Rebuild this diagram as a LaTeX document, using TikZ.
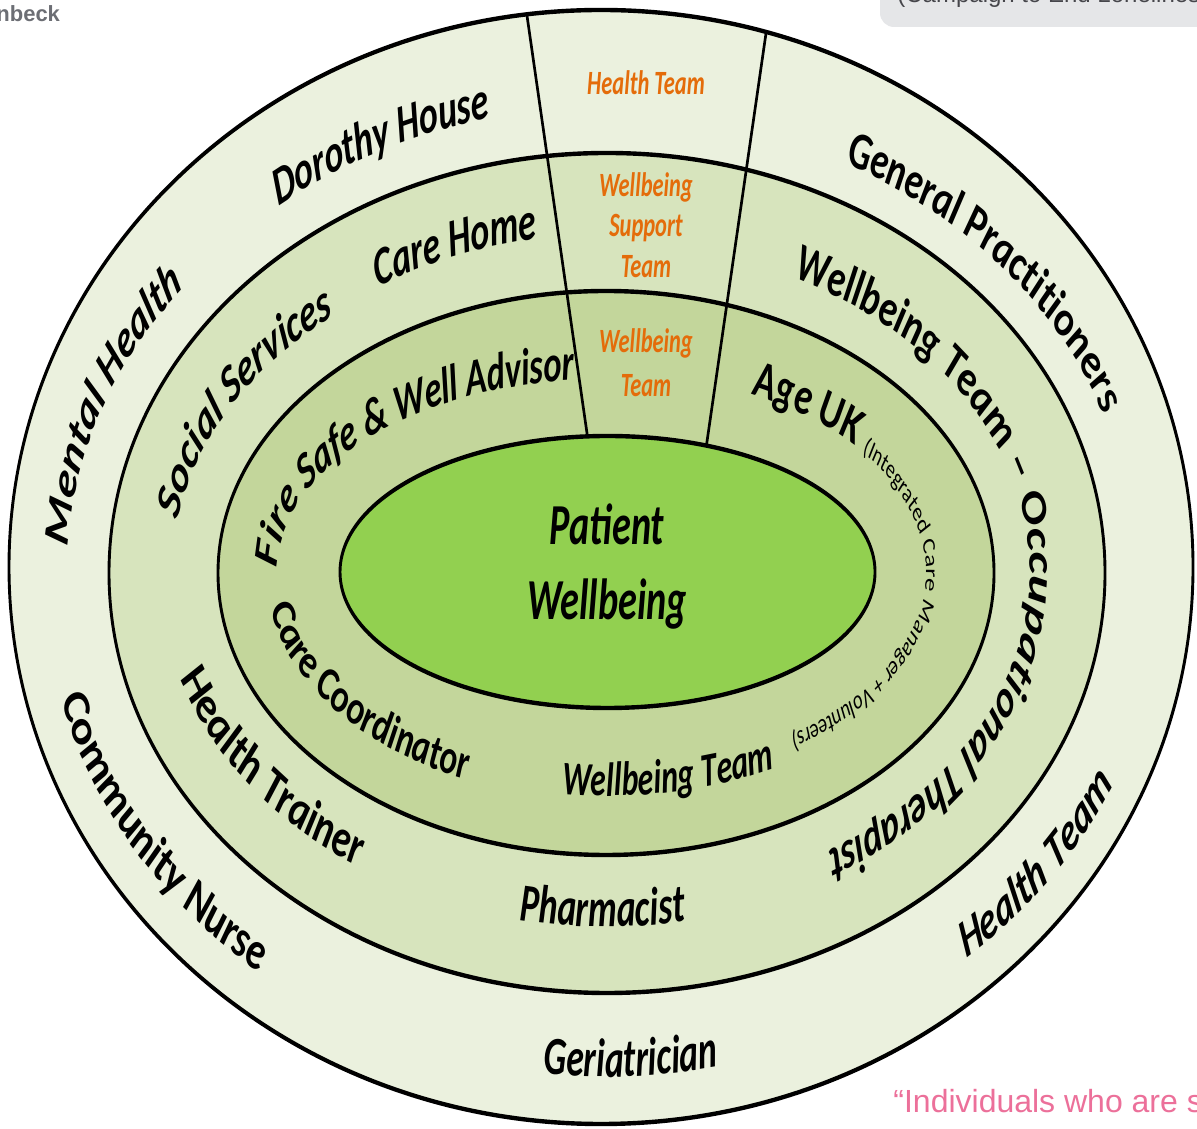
\documentclass[tikz,border=0pt]{standalone}
\usepackage{fontspec}
\usetikzlibrary{decorations.text}
\newfontfamily\carl{Carlito}
\newfontfamily\arialf{Liberation Sans}
\definecolor{ringA}{HTML}{EBF1DE}
\definecolor{ringB}{HTML}{D7E4BD}
\definecolor{ringC}{HTML}{C3D69B}
\definecolor{core}{HTML}{92D050}
\definecolor{orangeT}{HTML}{E46C0A}
\definecolor{uigray}{RGB}{108,110,116}
\definecolor{uidark}{RGB}{70,70,75}
\definecolor{boxgray}{RGB}{229,230,232}
\definecolor{pinkT}{RGB}{236,112,154}
\newcommand\labA{\carl\bfseries\itshape\fontsize{27}{27}\selectfont}
\newcommand\labAA{\carl\bfseries\itshape\fontsize{28}{28}\selectfont}
\newcommand\labB{\carl\bfseries\itshape\fontsize{24}{24}\selectfont}
\newcommand\labC{\carl\bfseries\itshape\fontsize{26}{26}\selectfont}
\newcommand\labCC{\carl\bfseries\itshape\fontsize{25}{25}\selectfont}
\newcommand\labS{\carl\fontsize{13.5}{13.5}\selectfont}
\newcommand\labO{\carl\bfseries\itshape\fontsize{17}{20}\selectfont}
\newcommand\labP{\carl\bfseries\itshape\fontsize{29}{37}\selectfont}
\newcommand\arctext[5]{\path[decorate,decoration={text along path,text={#5}}] ([shift={(#3:#1 and #2)}]C) arc[start angle=#3,end angle=#4,x radius=#1,y radius=#2];}
\begin{document}
\begin{tikzpicture}[x=0.5pt,y=0.5pt,
  ring/.style={draw=black,line width=2.2pt},
  spoke/.style={draw=black,line width=2pt},
  otext/.style={font=\labO,text=orangeT,anchor=base,inner sep=0pt},
  ptext/.style={font=\labP,text=black,anchor=base,inner sep=0pt},
  uitext/.style={anchor=base west,inner sep=0pt}]
\useasboundingbox (0,0) rectangle (1197,1128);
\fill[white] (0,0) rectangle (1197,1128);
% surrounding screenshot pieces
\fill[boxgray,rounded corners=7pt] (880,1101) rectangle (1240,1170);
\node[uitext,font=\arialf\fontsize{12}{12}\selectfont,text=uidark] (camp) at (897,1125) {(Campaign to End Loneliness};
\node[uitext,font=\arialf\bfseries\fontsize{11}{11}\selectfont,text=uigray] (nb) at (-4,1106) {nbeck};
\node[uitext,font=\arialf\fontsize{16}{16}\selectfont,text=pinkT] (ind) at (893,16) {“Individuals who are s};
\begin{scope}[x=0.757576pt,y=0.5pt,transform canvas={xscale=0.66}]
  \coordinate (C) at (606,556);
  \coordinate (c1) at (601,561);
  \coordinate (c2) at (607,555);
  \coordinate (c3) at (606,555);
  \coordinate (c4) at (607.5,556);
  \path[ring,fill=ringA] (c1) ellipse[x radius=592,y radius=557];
  \path[ring,fill=ringB] (c2) ellipse[x radius=498,y radius=420];
  \path[ring,fill=ringC] (c3) ellipse[x radius=388,y radius=282];
  \coordinate (s1o) at ([shift={(97.2:592 and 557)}]c1);
  \coordinate (s1i) at ([shift={(94.3:267.5 and 136)}]c4);
  \coordinate (s2o) at ([shift={(73.8:592 and 557)}]c1);
  \coordinate (s2i) at ([shift={(68.3:267.5 and 136)}]c4);
  \draw[spoke] (s1o) -- (s1i);
  \draw[spoke] (s2o) -- (s2i);
  \path[ring,fill=core] (c4) ellipse[x radius=267.5,y radius=136];
  % outer ring
  \arctext{539}{457}{177}{95}{|\labA|Mental Health}
  \arctext{530}{465}{128.2}{70}{|\labA|Dorothy House}
  \arctext{530}{458}{63}{0}{|\labA|General Practitioners}
  \arctext{563}{508}{194.6}{260}{|\labAA|Community Nurse}
  \arctext{560}{505}{263.6}{300}{|\labA|Geriatrician}
  \arctext{560}{505}{310}{370}{|\labA|Health Team}
  % middle ring
  \arctext{434}{328}{171}{115}{|\labA|Social Services}
  \arctext{424}{338}{122.6}{80}{|\labA|Care Home}
  \arctext{424}{328}{63.6}{-80}{|\labA|Wellbeing Team – Occupational Therapist}
  \arctext{446}{355}{197.5}{250}{|\labAA|Health Trainer}
  \arctext{446}{355}{258.8}{300}{|\labA|Pharmacist}
  % third ring
  \arctext{329}{193}{179}{85}{|\labC|Fire Safe {\&} Well Advisor}
  \arctext{320}{200}{62.7}{-85}{|\labA|Age UK |\labS|(Integrated Care Manager + Volunteers)}
  \arctext{340}{228}{189.5}{260}{|\labCC|Care Coordinator}
  \arctext{350}{224}{262.8}{320}{|\labB|Wellbeing Team}
  % orange wedge labels
  \node[otext] (ht) at (646,1033) {Health Team};
  \node[otext] (ws1) at (646,931) {Wellbeing};
  \node[otext] (ws2) at (646,891) {Support};
  \node[otext] (ws3) at (646,850) {Team};
  \node[otext] (wt1) at (646,775) {Wellbeing};
  \node[otext] (wt2) at (646,731) {Team};
  % centre
  \node[ptext] (pat) at (607,583) {Patient};
  \node[ptext] (wel) at (607,508) {Wellbeing};
\end{scope}
\end{tikzpicture}
\end{document}
